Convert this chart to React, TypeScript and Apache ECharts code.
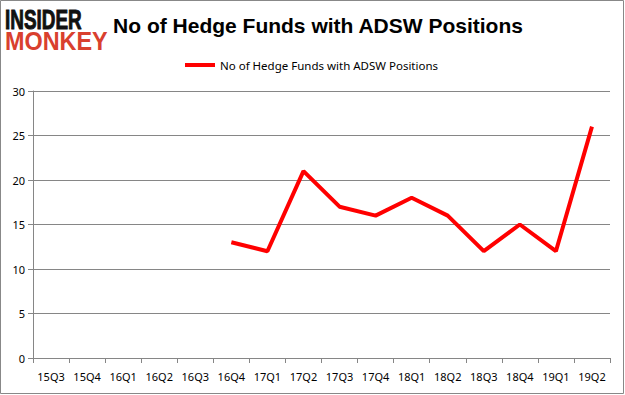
import React, { useEffect, useRef } from "react";
import * as echarts from "echarts";

const categories = ["15Q3", "15Q4", "16Q1", "16Q2", "16Q3", "16Q4", "17Q1", "17Q2", "17Q3", "17Q4", "18Q1", "18Q2", "18Q3", "18Q4", "19Q1", "19Q2"];
const hedgeFunds: (number | null)[] = [null, null, null, null, null, 13, 12, 21, 17, 16, 18, 16, 12, 15, 12, 26];
const seriesName = "No of Hedge Funds with ADSW Positions";
const titleText = "No of Hedge Funds with ADSW Positions";

export default function App() {
  const ref = useRef<HTMLDivElement>(null);
  useEffect(() => {
    document.body.style.margin = "0";
    const chart = echarts.init(ref.current!, null, { renderer: "svg" });
    chart.setOption({
      animation: false,
      backgroundColor: "#fff",
      title: {
        text: titleText,
        left: 313,
        textAlign: "center",
        top: 10,
        textStyle: { fontFamily: "Liberation Sans", fontWeight: "bold", fontSize: 21, color: "#000" },
      },
      legend: {
        top: 54,
        left: 180,
        itemWidth: 30,
        itemHeight: 4,
        itemGap: 4,
        icon: "rect",
        data: [seriesName],
        textStyle: { fontFamily: "Noto Sans", fontSize: 11.5, color: "#000", padding: [0, 0, 0, 0] },
      },
      grid: { left: 33, right: 15, top: 91, bottom: 37 },
      xAxis: {
        type: "category",
        data: categories,
        boundaryGap: true,
        axisLine: { lineStyle: { color: "#868686", width: 1 } },
        axisTick: { show: true, length: 5, lineStyle: { color: "#868686" }, alignWithLabel: false },
        axisLabel: { fontFamily: "Noto Sans", fontSize: 11, color: "#000", margin: 13, interval: 0 },
        splitLine: { show: false },
      },
      yAxis: {
        type: "value",
        min: 0,
        max: 30,
        interval: 5,
        axisLine: { show: true, lineStyle: { color: "#868686", width: 1 } },
        axisTick: { show: true, length: 5, lineStyle: { color: "#868686" } },
        axisLabel: { fontFamily: "Noto Sans", fontSize: 11, color: "#000", margin: 8 },
        splitLine: { lineStyle: { color: "#868686", width: 1 } },
      },
      series: [
        {
          name: seriesName,
          type: "line",
          data: hedgeFunds,
          symbol: "none",
          connectNulls: false,
          lineStyle: { color: "#ff0000", width: 4 },
          itemStyle: { color: "#ff0000" },
        },
      ],
      graphic: [
        {
          type: "rect",
          shape: { x: 0.5, y: 0.5, width: 623, height: 393 },
          style: { fill: "none", stroke: "#888", lineWidth: 1 },
          z: 100,
        },
        {
          type: "text",
          x: 5,
          y: 6,
          scaleX: 0.7,
          style: { text: "INSIDER", fontFamily: "Liberation Sans", fontWeight: 900, fontSize: 27, fill: "#111", stroke: "#111", lineWidth: 1 },
        },
        {
          type: "text",
          x: 5,
          y: 28,
          scaleX: 0.9,
          style: { text: "MONKEY", fontFamily: "Liberation Sans", fontWeight: 900, fontSize: 26, fill: "#d9402e" },
        },
      ],
    });
    return () => chart.dispose();
  }, []);
  return <div ref={ref} style={{ width: 625, height: 395 }} />;
}
